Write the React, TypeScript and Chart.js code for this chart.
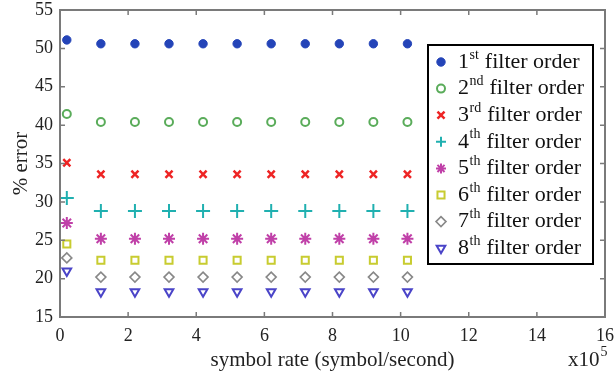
import React, { useEffect, useRef } from "react";
import { Chart, registerables } from "chart.js";
import { drawPoint } from "chart.js/helpers";

Chart.register(...registerables);

// ---- data ----
const symbolRate = [0.2, 1.2, 2.2, 3.2, 4.2, 5.2, 6.2, 7.2, 8.2, 9.2, 10.2]; // x10^5
const order1 = [51.1, 50.6, 50.6, 50.6, 50.6, 50.6, 50.6, 50.6, 50.6, 50.6, 50.6];
const order2 = [41.45, 40.4, 40.4, 40.4, 40.4, 40.4, 40.4, 40.4, 40.4, 40.4, 40.4];
const order3 = [35.1, 33.6, 33.6, 33.6, 33.6, 33.6, 33.6, 33.6, 33.6, 33.6, 33.6];
const order4 = [30.5, 28.8, 28.8, 28.8, 28.8, 28.8, 28.8, 28.8, 28.8, 28.8, 28.8];
const order5 = [27.25, 25.2, 25.2, 25.2, 25.2, 25.2, 25.2, 25.2, 25.2, 25.2, 25.2];
const order6 = [24.5, 22.4, 22.4, 22.4, 22.4, 22.4, 22.4, 22.4, 22.4, 22.4, 22.4];
const order7 = [22.7, 20.2, 20.2, 20.2, 20.2, 20.2, 20.2, 20.2, 20.2, 20.2, 20.2];
const order8 = [21.0, 18.3, 18.3, 18.3, 18.3, 18.3, 18.3, 18.3, 18.3, 18.3, 18.3];

const seriesLabels = [
  "1st filter order",
  "2nd filter order",
  "3rd filter order",
  "4th filter order",
  "5th filter order",
  "6th filter order",
  "7th filter order",
  "8th filter order",
];
const seriesValues = [order1, order2, order3, order4, order5, order6, order7, order8];

const xTitle = "symbol rate (symbol/second)";
const yTitle = "% error";
const xMultiplierBase = "x10";
const xMultiplierExp = "5";

const xMin = 0;
const xMax = 16;
const xStep = 2;
const yMin = 15;
const yMax = 55;
const yStep = 5;

// ---- styles ----
const SERIF = "'Liberation Serif', 'Times New Roman', serif";
const styles = [
  { color: "#2444b8", pointStyle: "circle", radius: 4.2, fill: true, bw: 1, rot: 0 },
  { color: "#5aac5a", pointStyle: "circle", radius: 4, fill: false, bw: 2, rot: 0 },
  { color: "#ee2424", pointStyle: "crossRot", radius: 5, fill: false, bw: 2.5, rot: 0 },
  { color: "#20b0b0", pointStyle: "cross", radius: 7, fill: false, bw: 2, rot: 0 },
  { color: "#c040a8", pointStyle: "star", radius: 6, fill: false, bw: 2, rot: 0 },
  { color: "#c8cc30", pointStyle: "rect", radius: 5, fill: false, bw: 2, rot: 0 },
  { color: "#888888", pointStyle: "rectRot", radius: 5, fill: false, bw: 1.6, rot: 0 },
  { color: "#4a44c8", pointStyle: "triangle", radius: 5, fill: false, bw: 2, rot: 180 },
];

const framePlugin = {
  id: "frameTicks",
  afterDatasetsDraw(chart: any) {
    const { ctx, chartArea } = chart;
    const { left, right, top, bottom } = chartArea;
    const xs = chart.scales.x;
    const ys = chart.scales.y;
    ctx.save();
    ctx.strokeStyle = "#7a7a7a";
    ctx.lineWidth = 2;
    ctx.strokeRect(left, top, right - left, bottom - top);
    ctx.lineWidth = 1.5;
    const tl = 5;
    ctx.beginPath();
    xs.ticks.forEach((t: any) => {
      const px = xs.getPixelForValue(t.value);
      ctx.moveTo(px, bottom);
      ctx.lineTo(px, bottom - tl);
      ctx.moveTo(px, top);
      ctx.lineTo(px, top + tl);
    });
    ys.ticks.forEach((t: any) => {
      const py = ys.getPixelForValue(t.value);
      ctx.moveTo(left, py);
      ctx.lineTo(left + tl, py);
      ctx.moveTo(right, py);
      ctx.lineTo(right - tl, py);
    });
    ctx.stroke();

    // x10^5 multiplier
    ctx.fillStyle = "#222";
    ctx.textBaseline = "middle";
    ctx.textAlign = "left";
    ctx.font = `21px ${SERIF}`;
    const bx = 568;
    const by = 360;
    ctx.fillText(xMultiplierBase, bx, by);
    const w = ctx.measureText(xMultiplierBase).width;
    ctx.font = `14px ${SERIF}`;
    ctx.fillText(xMultiplierExp, bx + w + 1, by - 8);
    ctx.restore();
  },
};

const legendPlugin = {
  id: "customLegend",
  afterDraw(chart: any) {
    const { ctx } = chart;
    const bx = 428;
    const by = 45;
    const bw = 165;
    const bh = 219;
    ctx.save();
    ctx.fillStyle = "#ffffff";
    ctx.fillRect(bx, by, bw, bh);
    ctx.strokeStyle = "#000000";
    ctx.lineWidth = 2;
    ctx.strokeRect(bx, by, bw, bh);

    const y0 = 62;
    const step = 26.6;
    chart.data.datasets.forEach((ds: any, i: number) => {
      const y = y0 + i * step;
      const st = styles[i];
      ctx.save();
      ctx.strokeStyle = st.color;
      ctx.fillStyle = st.fill ? st.color : "rgba(0,0,0,0)";
      ctx.lineWidth = st.bw;
      drawPoint(
        ctx,
        { pointStyle: st.pointStyle, rotation: st.rot, radius: Math.min(st.radius, 5), borderWidth: st.bw } as any,
        441,
        y
      );
      ctx.restore();

      const label: string = ds.label;
      const m = /^(\d+)(st|nd|rd|th)\s(.*)$/.exec(label);
      ctx.fillStyle = "#111";
      ctx.textBaseline = "middle";
      ctx.textAlign = "left";
      let x = 458;
      if (m) {
        ctx.font = `22px ${SERIF}`;
        ctx.fillText(m[1], x, y);
        x += ctx.measureText(m[1]).width;
        ctx.font = `14px ${SERIF}`;
        ctx.fillText(m[2], x + 0.5, y - 7);
        x += ctx.measureText(m[2]).width + 1;
        ctx.font = `22px ${SERIF}`;
        ctx.fillText(" " + m[3], x, y);
      } else {
        ctx.font = `22px ${SERIF}`;
        ctx.fillText(label, x, y);
      }
    });
    ctx.restore();
  },
};

export default function App() {
  const ref = useRef<HTMLCanvasElement | null>(null);

  useEffect(() => {
    document.body.style.margin = "0";
    const canvas = ref.current;
    if (!canvas) return;
    const datasets = seriesValues.map((vals, i) => {
      const st = styles[i];
      return {
        label: seriesLabels[i],
        data: symbolRate.map((x, j) => ({ x, y: vals[j] })),
        showLine: false,
        pointStyle: st.pointStyle as any,
        pointRadius: st.radius,
        pointRotation: st.rot,
        pointBorderWidth: st.bw,
        pointBorderColor: st.color,
        pointBackgroundColor: st.fill ? st.color : "rgba(0,0,0,0)",
        borderColor: st.color,
        backgroundColor: st.fill ? st.color : "rgba(0,0,0,0)",
      };
    });

    const chart = new Chart(canvas, {
      type: "scatter",
      data: { datasets },
      options: {
        responsive: false,
        animation: false,
        layout: { padding: { left: 0, top: 10, right: 11, bottom: 0 } },
        plugins: {
          legend: { display: false },
          tooltip: { enabled: false },
        },
        scales: {
          x: {
            type: "linear",
            min: xMin,
            max: xMax,
            grid: { display: false, drawTicks: false },
            border: { display: false },
            ticks: {
              stepSize: xStep,
              padding: 8,
              color: "#222",
              font: { family: SERIF, size: 18 },
              maxRotation: 0,
            },
            title: {
              display: true,
              text: xTitle,
              color: "#222",
              font: { family: SERIF, size: 21 },
              padding: { top: 0, bottom: 1 },
            },
            afterFit(scale: any) {
              scale.height = 57;
              scale.paddingLeft = 0;
              scale.paddingRight = 0;
            },
          },
          y: {
            type: "linear",
            min: yMin,
            max: yMax,
            grid: { display: false, drawTicks: false },
            border: { display: false },
            ticks: {
              stepSize: yStep,
              padding: 7,
              color: "#222",
              font: { family: SERIF, size: 18 },
            },
            title: {
              display: true,
              text: yTitle,
              color: "#222",
              font: { family: SERIF, size: 21 },
              padding: { top: 9, bottom: 0 },
            },
            afterFit(scale: any) {
              scale.width = 60;
              scale.paddingTop = 0;
              scale.paddingBottom = 0;
            },
          },
        },
      },
      plugins: [framePlugin, legendPlugin],
    });
    return () => chart.destroy();
  }, []);

  return (
    <div style={{ width: 616, height: 374, background: "#fff" }}>
      <canvas ref={ref} width={616} height={374} style={{ display: "block" }} />
    </div>
  );
}
